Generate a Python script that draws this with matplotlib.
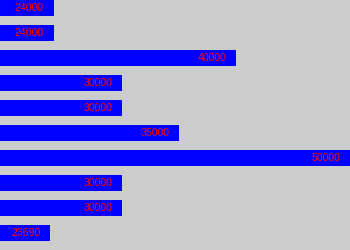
import matplotlib
matplotlib.use("Agg")
import matplotlib.pyplot as plt

values = [24000, 24000, 40000, 30000, 30000, 35000, 50000, 30000, 30000, 23690]
labels = ["24000", "24000", "40000", "30000", "30000", "35000", "50000", "30000", "30000", "23690"]

fig = plt.figure(figsize=(3.5, 2.5), dpi=100, facecolor="#cccccc")
ax = fig.add_axes([0, 0, 1, 1])
ax.set_facecolor("#cccccc")

pos = list(range(len(values)))
ax.barh(pos, values, height=0.64, color="#0000ff", linewidth=0)
for p, v, t in zip(pos, values, labels):
    ax.annotate(t, xy=(v, p), xytext=(-7.2, 0), textcoords="offset points",
                ha="right", va="center", color="#ff0000",
                fontsize=7.6, family="Liberation Sans")

ax.set_xlim(19257, 50000)
ax.set_ylim(9.68, -0.32)
ax.axis("off")
fig.savefig("out.png", dpi=100, facecolor="#cccccc")
